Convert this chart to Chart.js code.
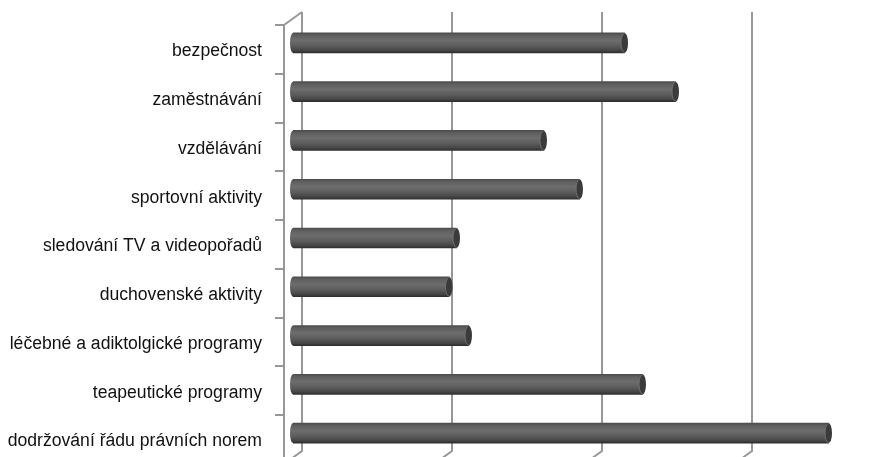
<!DOCTYPE html>
<html>
<head>
<meta charset="utf-8">
<script src="https://cdn.jsdelivr.net/npm/chart.js@4.4.1/dist/chart.umd.min.js"></script>
<style>
  html, body { margin: 0; padding: 0; background: #fff; overflow: hidden; }
  #wrap { width: 889px; height: 457px; overflow: hidden; }
</style>
</head>
<body>
<div id="wrap"><canvas id="chart" width="889" height="470"></canvas></div>
<script>
// Chart data
const categories = [
  'bezpečnost',
  'zaměstnávání',
  'vzdělávání',
  'sportovní aktivity',
  'sledování TV a videopořadů',
  'duchovenské aktivity',
  'léčebné a adiktolgické programy',
  'teapeutické programy',
  'dodržování řádu právních norem'
];
const values = [22.1, 25.5, 16.7, 19.1, 10.9, 10.4, 11.7, 23.3, 35.7];
const axisMin = 0;
const axisMax = 40;
const axisStep = 10;

const LINE = '#979797';
const DEPTH_X = 18;   // back wall offset
const DEPTH_Y = -13;
const BAR_H = 20;

// 3D look: back wall gridlines + floor ticks, bars pushed half way into depth
const depthPlugin = {
  id: 'depth',
  beforeDatasetsDraw(chart) {
    const { ctx, chartArea, scales } = chart;
    const x = scales.x;
    ctx.save();
    ctx.strokeStyle = LINE;
    ctx.lineWidth = 2;
    x.ticks.forEach(t => {
      const px = Math.round(x.getPixelForValue(t.value));
      ctx.beginPath();
      ctx.moveTo(px + DEPTH_X, chartArea.top + DEPTH_Y);
      ctx.lineTo(px + DEPTH_X, chartArea.bottom + DEPTH_Y);
      ctx.lineTo(px, chartArea.bottom);
      ctx.stroke();
    });
    // top edge of the side wall
    const x0 = Math.round(x.getPixelForValue(axisMin));
    ctx.beginPath();
    ctx.moveTo(x0, chartArea.top);
    ctx.lineTo(x0 + DEPTH_X, chartArea.top + DEPTH_Y);
    ctx.stroke();
    ctx.restore();

    ctx.save();
    ctx.translate(DEPTH_X / 2, DEPTH_Y / 2);
  },
  afterDatasetsDraw(chart) {
    const { ctx } = chart;
    const meta = chart.getDatasetMeta(0);
    meta.data.forEach((bar, i) => {
      const p = bar.getProps(['x', 'y', 'base', 'height'], true);
      const ry = p.height / 2;
      // rounded start
      ctx.beginPath();
      ctx.ellipse(p.base, p.y, 3, ry, 0, Math.PI / 2, Math.PI * 1.5);
      ctx.closePath();
      ctx.fillStyle = barGradient(ctx, p.y);
      ctx.fill();
      // end cap
      ctx.beginPath();
      ctx.ellipse(p.x, p.y, 3.5, ry, 0, 0, Math.PI * 2);
      ctx.fillStyle = '#3b3b3b';
      ctx.fill();
      ctx.beginPath();
      ctx.ellipse(p.x, p.y, 3.5, ry - 0.5, 0, Math.PI / 2, Math.PI * 1.5);
      ctx.strokeStyle = '#707070';
      ctx.lineWidth = 1;
      ctx.stroke();
    });
    ctx.restore();
  }
};

function barGradient(ctx, y) {
  if (!Number.isFinite(y)) return '#5a5a5a';
  const g = ctx.createLinearGradient(0, y - BAR_H / 2, 0, y + BAR_H / 2);
  g.addColorStop(0, '#4c4c4c');
  g.addColorStop(0.12, '#5e5e5e');
  g.addColorStop(0.38, '#6d6d6d');
  g.addColorStop(0.65, '#5c5c5c');
  g.addColorStop(0.88, '#454545');
  g.addColorStop(1, '#2e2e2e');
  return g;
}

new Chart(document.getElementById('chart'), {
  type: 'bar',
  data: {
    labels: categories,
    datasets: [{
      data: values,
      backgroundColor: (c) => {
        const y = c.chart.scales.y ? c.chart.scales.y.getPixelForValue(c.dataIndex) : NaN;
        return barGradient(c.chart.ctx, y);
      },
      borderWidth: 0,
      barThickness: BAR_H
    }]
  },
  options: {
    indexAxis: 'y',
    responsive: false,
    animation: false,
    layout: { padding: { top: 25, bottom: 6, left: 0, right: 5 } },
    plugins: {
      legend: { display: false },
      tooltip: { enabled: false }
    },
    scales: {
      x: {
        display: false,
        min: axisMin,
        max: axisMax,
        ticks: { stepSize: axisStep }
      },
      y: {
        grid: {
          display: true,
          drawOnChartArea: false,
          offset: true,
          tickLength: 9,
          color: LINE,
          lineWidth: 2
        },
        border: { display: true, color: LINE, width: 2 },
        ticks: {
          padding: 13,
          labelOffset: 2,
          color: '#111',
          font: { family: '"Liberation Sans", Arial, sans-serif', size: 17.6 }
        },
        afterFit(scale) {
          scale.width = 284;
          scale.paddingTop = 0;
          scale.paddingBottom = 0;
        }
      }
    }
  },
  plugins: [depthPlugin]
});
</script>
</body>
</html>
